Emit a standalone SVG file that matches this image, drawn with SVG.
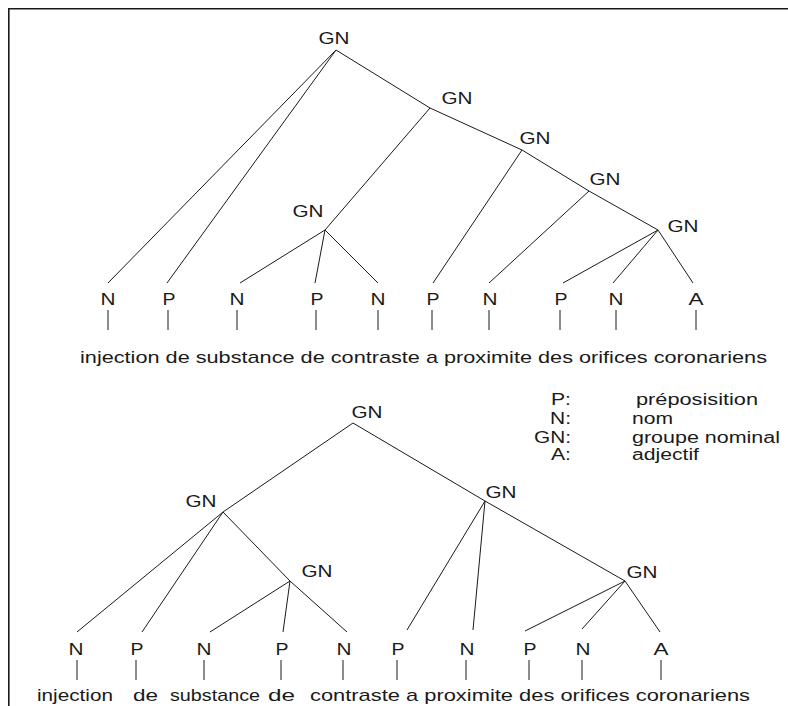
<svg xmlns="http://www.w3.org/2000/svg" width="788" height="706" viewBox="0 0 788 706">
  <style>
    text { font-family: "Liberation Sans", Arial, sans-serif; font-size: 17px; fill: #1a1a1a; }
    #legend text { font-size: 16px; }
    .c { text-anchor: middle; }
    .e { text-anchor: end; }
    .edge line, .tick { stroke: #1a1a1a; stroke-width: 1; fill: none; }
    .frame { stroke: #1a1a1a; stroke-width: 1.6; fill: none; }
  </style>
  <rect width="788" height="706" fill="#ffffff"/>

  <!-- frame: top and left border -->
  <path class="frame" d="M8.8 706 V8.8 H788"/>

  <!-- connectors -->
  <g id="connectors" class="edge">
    <!-- upper tree -->
    <line x1="336" y1="50" x2="108" y2="283"/>
    <line x1="336" y1="50" x2="167" y2="283"/>
    <line x1="336" y1="50" x2="430" y2="108"/>
    <line x1="430" y1="108" x2="325" y2="230"/>
    <line x1="430" y1="108" x2="522" y2="150"/>
    <line x1="522" y1="150" x2="589" y2="191"/>
    <line x1="589" y1="191" x2="658" y2="230"/>
    <line x1="325" y1="230" x2="240" y2="283"/>
    <line x1="325" y1="230" x2="315" y2="283"/>
    <line x1="325" y1="230" x2="378" y2="283"/>
    <line x1="522" y1="150" x2="433" y2="283"/>
    <line x1="589" y1="191" x2="489" y2="283"/>
    <line x1="658" y1="230" x2="563" y2="283"/>
    <line x1="658" y1="230" x2="613" y2="283"/>
    <line x1="658" y1="230" x2="693" y2="283"/>
    <!-- lower tree -->
    <line x1="353" y1="423" x2="223" y2="512"/>
    <line x1="353" y1="423" x2="485" y2="501"/>
    <line x1="485" y1="501" x2="625" y2="581"/>
    <line x1="223" y1="512" x2="77" y2="632"/>
    <line x1="223" y1="512" x2="142" y2="632"/>
    <line x1="223" y1="512" x2="290" y2="581"/>
    <line x1="290" y1="581" x2="210" y2="632"/>
    <line x1="290" y1="581" x2="283" y2="632"/>
    <line x1="290" y1="581" x2="347" y2="632"/>
    <line x1="485" y1="501" x2="407" y2="630"/>
    <line x1="485" y1="501" x2="473" y2="630"/>
    <line x1="625" y1="581" x2="525" y2="631"/>
    <line x1="625" y1="581" x2="582" y2="629"/>
    <line x1="625" y1="581" x2="660" y2="632"/>
  </g>

  <!-- upper tree: phrase nodes -->
  <g id="t1-gn-root"><text class="c" x="334" y="44" textLength="31" lengthAdjust="spacingAndGlyphs">GN</text></g>
  <g id="t1-gn-2"><text class="c" x="457" y="104" textLength="31" lengthAdjust="spacingAndGlyphs">GN</text></g>
  <g id="t1-gn-3"><text class="c" x="535" y="144" textLength="31" lengthAdjust="spacingAndGlyphs">GN</text></g>
  <g id="t1-gn-4"><text class="c" x="605" y="185" textLength="31" lengthAdjust="spacingAndGlyphs">GN</text></g>
  <g id="t1-gn-5"><text class="c" x="683" y="232" textLength="31" lengthAdjust="spacingAndGlyphs">GN</text></g>
  <g id="t1-gn-inner"><text class="c" x="308" y="217" textLength="31" lengthAdjust="spacingAndGlyphs">GN</text></g>

  <!-- upper tree: word categories -->
  <g id="t1-leaf-1"><text class="c" x="108" y="305" textLength="15" lengthAdjust="spacingAndGlyphs">N</text><line class="tick" x1="108" y1="310" x2="108" y2="330"/></g>
  <g id="t1-leaf-2"><text class="c" x="169" y="305" textLength="13" lengthAdjust="spacingAndGlyphs">P</text><line class="tick" x1="168" y1="310" x2="168" y2="330"/></g>
  <g id="t1-leaf-3"><text class="c" x="237" y="305" textLength="15" lengthAdjust="spacingAndGlyphs">N</text><line class="tick" x1="237" y1="310" x2="237" y2="330"/></g>
  <g id="t1-leaf-4"><text class="c" x="317" y="305" textLength="13" lengthAdjust="spacingAndGlyphs">P</text><line class="tick" x1="316" y1="310" x2="316" y2="330"/></g>
  <g id="t1-leaf-5"><text class="c" x="378" y="305" textLength="15" lengthAdjust="spacingAndGlyphs">N</text><line class="tick" x1="378" y1="310" x2="378" y2="330"/></g>
  <g id="t1-leaf-6"><text class="c" x="433" y="305" textLength="13" lengthAdjust="spacingAndGlyphs">P</text><line class="tick" x1="432" y1="310" x2="432" y2="330"/></g>
  <g id="t1-leaf-7"><text class="c" x="490" y="305" textLength="15" lengthAdjust="spacingAndGlyphs">N</text><line class="tick" x1="489" y1="310" x2="489" y2="330"/></g>
  <g id="t1-leaf-8"><text class="c" x="561" y="305" textLength="13" lengthAdjust="spacingAndGlyphs">P</text><line class="tick" x1="560" y1="310" x2="560" y2="330"/></g>
  <g id="t1-leaf-9"><text class="c" x="616" y="305" textLength="15" lengthAdjust="spacingAndGlyphs">N</text><line class="tick" x1="616" y1="310" x2="616" y2="330"/></g>
  <g id="t1-leaf-10"><text class="c" x="696" y="305" textLength="15" lengthAdjust="spacingAndGlyphs">A</text><line class="tick" x1="696" y1="310" x2="696" y2="330"/></g>

  <g id="t1-sentence"><text x="80" y="363" textLength="687" lengthAdjust="spacingAndGlyphs">injection de substance de contraste a proximite des orifices coronariens</text></g>

  <!-- legend -->
  <g id="legend">
    <text class="e" x="571" y="405" textLength="20" lengthAdjust="spacingAndGlyphs">P:</text>
    <text class="e" x="571" y="424" textLength="21" lengthAdjust="spacingAndGlyphs">N:</text>
    <text class="e" x="571" y="443" textLength="37" lengthAdjust="spacingAndGlyphs">GN:</text>
    <text class="e" x="571" y="460" textLength="20" lengthAdjust="spacingAndGlyphs">A:</text>
    <text x="636" y="405" textLength="122" lengthAdjust="spacingAndGlyphs">préposisition</text>
    <text x="632" y="424" textLength="41" lengthAdjust="spacingAndGlyphs">nom</text>
    <text x="632" y="443" textLength="148" lengthAdjust="spacingAndGlyphs">groupe nominal</text>
    <text x="632" y="460" textLength="67" lengthAdjust="spacingAndGlyphs">adjectif</text>
  </g>

  <!-- lower tree: phrase nodes -->
  <g id="t2-gn-root"><text class="c" x="367" y="418" textLength="31" lengthAdjust="spacingAndGlyphs">GN</text></g>
  <g id="t2-gn-left"><text class="c" x="201" y="507" textLength="31" lengthAdjust="spacingAndGlyphs">GN</text></g>
  <g id="t2-gn-right"><text class="c" x="501" y="498" textLength="31" lengthAdjust="spacingAndGlyphs">GN</text></g>
  <g id="t2-gn-mid"><text class="c" x="317" y="577" textLength="31" lengthAdjust="spacingAndGlyphs">GN</text></g>
  <g id="t2-gn-end"><text class="c" x="642" y="578" textLength="31" lengthAdjust="spacingAndGlyphs">GN</text></g>

  <!-- lower tree: word categories -->
  <g id="t2-leaf-1"><text class="c" x="76" y="655" textLength="15" lengthAdjust="spacingAndGlyphs">N</text><line class="tick" x1="77" y1="660" x2="77" y2="680"/></g>
  <g id="t2-leaf-2"><text class="c" x="137" y="655" textLength="13" lengthAdjust="spacingAndGlyphs">P</text><line class="tick" x1="136" y1="660" x2="136" y2="680"/></g>
  <g id="t2-leaf-3"><text class="c" x="204" y="655" textLength="15" lengthAdjust="spacingAndGlyphs">N</text><line class="tick" x1="204" y1="660" x2="204" y2="680"/></g>
  <g id="t2-leaf-4"><text class="c" x="282" y="655" textLength="13" lengthAdjust="spacingAndGlyphs">P</text><line class="tick" x1="281" y1="660" x2="281" y2="680"/></g>
  <g id="t2-leaf-5"><text class="c" x="344" y="655" textLength="15" lengthAdjust="spacingAndGlyphs">N</text><line class="tick" x1="343" y1="660" x2="343" y2="680"/></g>
  <g id="t2-leaf-6"><text class="c" x="398" y="655" textLength="13" lengthAdjust="spacingAndGlyphs">P</text><line class="tick" x1="397" y1="660" x2="397" y2="680"/></g>
  <g id="t2-leaf-7"><text class="c" x="467" y="655" textLength="15" lengthAdjust="spacingAndGlyphs">N</text><line class="tick" x1="466" y1="660" x2="466" y2="680"/></g>
  <g id="t2-leaf-8"><text class="c" x="530" y="655" textLength="13" lengthAdjust="spacingAndGlyphs">P</text><line class="tick" x1="529" y1="660" x2="529" y2="680"/></g>
  <g id="t2-leaf-9"><text class="c" x="583" y="655" textLength="15" lengthAdjust="spacingAndGlyphs">N</text><line class="tick" x1="582" y1="660" x2="582" y2="680"/></g>
  <g id="t2-leaf-10"><text class="c" x="661" y="655" textLength="15" lengthAdjust="spacingAndGlyphs">A</text><line class="tick" x1="661" y1="660" x2="661" y2="680"/></g>

  <!-- bottom sentence along the lower edge, words placed under their categories -->
  <g id="t2-sentence">
    <text x="37" y="701" textLength="76" lengthAdjust="spacingAndGlyphs">injection</text>
    <text x="133" y="701" textLength="25" lengthAdjust="spacingAndGlyphs">de</text>
    <text x="170" y="701" textLength="90" lengthAdjust="spacingAndGlyphs">substance</text>
    <text x="268" y="701" textLength="27" lengthAdjust="spacingAndGlyphs">de</text>
    <text x="310" y="701" textLength="440" lengthAdjust="spacingAndGlyphs">contraste a proximite des orifices coronariens</text>
  </g>
</svg>
